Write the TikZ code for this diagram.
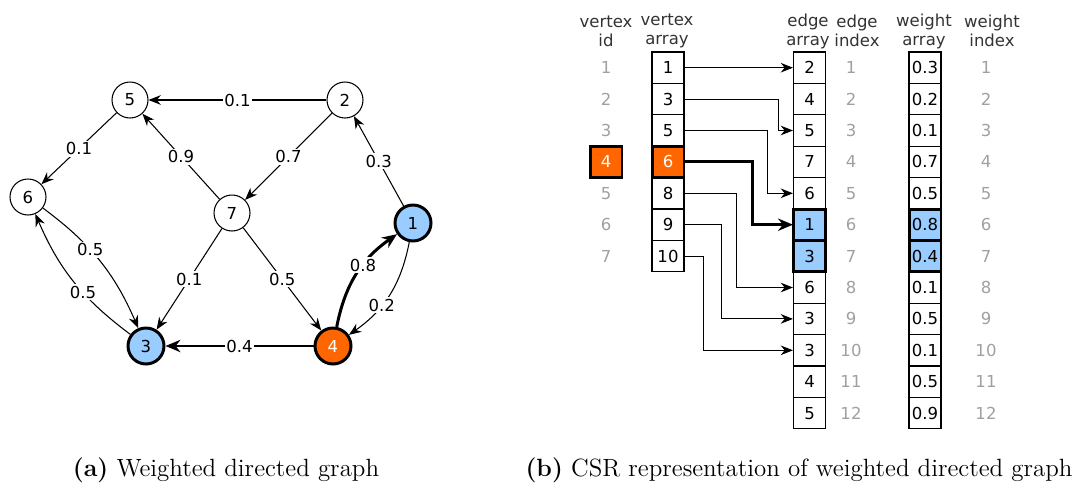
\documentclass[tikz,border=0pt]{standalone}
\usepackage{fontspec}
\newfontfamily\dejavu{DejaVu Sans}
\usetikzlibrary{arrows.meta, positioning}
\definecolor{lightblue}{HTML}{99CCFF}
\definecolor{darkorange}{HTML}{FF6600}
\definecolor{idxgray}{HTML}{A0A0A0}
\definecolor{textgray}{HTML}{333333}
\newcommand{\csrfont}{\dejavu\fontsize{9.4}{10.8}\selectfont}
\tikzstyle{vertex}  = [draw, circle, minimum size=7.2mm, inner sep=0pt, fill=white, line width=0.6pt, font=\csrfont]
\tikzstyle{active}  = [line width=1.7pt]
\tikzstyle{edge}    = [->, >={Stealth[length=7pt, width=5.5pt]}, line width=0.6pt]
\tikzstyle{bold}    = [line width=1.7pt, >={Stealth[length=8.5pt, width=7pt]}]
\tikzstyle{weight}  = [fill=white, inner sep=1pt, font=\csrfont]
\tikzstyle{cell}    = [draw, minimum width=6.4mm, minimum height=6.28mm, inner sep=0pt, line width=0.6pt, fill=white, font=\csrfont]
\tikzstyle{index}   = [text=idxgray, font=\csrfont]
\tikzstyle{header}  = [align=center, text=textgray, font=\csrfont]
\tikzstyle{arrow}   = [->, >={Stealth[length=7pt, width=5.5pt]}, line width=0.6pt]
\tikzstyle{caption} = [font=\fontsize{14.2}{17}\selectfont]

\begin{document}
\begin{tikzpicture}[x=0.02cm, y=0.02cm]
\useasboundingbox (0,0) rectangle (1076,485);

% (a) graph
\node[vertex] (v5) at (130,385) {5};
\node[vertex] (v2) at (345,385) {2};
\node[vertex] (v6) at (28,288) {6};
\node[vertex] (v7) at (232,272) {7};
\node[vertex, active, fill=lightblue] (v1) at (413,262) {1};
\node[vertex, active, fill=lightblue] (v3) at (146,139) {3};
\node[vertex, active, fill=darkorange, text=white] (v4) at (333,139) {4};

\draw[edge] (v2) -- node[weight] {0.1} (v5);
\draw[edge] (v5) -- node[weight] {0.1} (v6);
\draw[edge] (v7) -- node[weight] {0.9} (v5);
\draw[edge] (v2) -- node[weight] {0.7} (v7);
\draw[edge] (v1) -- node[weight] {0.3} (v2);
\draw[edge] (v7) -- node[weight] {0.1} (v3);
\draw[edge] (v7) -- node[weight] {0.5} (v4);
\draw[edge] (v6) to[bend left=15] node[weight, pos=0.4] {0.5} (v3);
\draw[edge] (v3) to[bend left=15] node[weight, pos=0.4] {0.5} (v6);
\draw[edge] (v1) to[bend left=22] node[weight, pos=0.62] {0.2} (v4);
\draw[edge, bold] (v4) to[bend left=22] node[weight, pos=0.6] {0.8} (v1);
\draw[edge, bold] (v4) -- node[weight] {0.4} (v3);

% (b) CSR arrays
\node[header] (hid) at (606,454) {vertex\\id};
\node[header] (hva) at (667,454) {vertex\\array};
\node[header] (hea) at (808,454) {edge\\array};
\node[header] (hei) at (857,454) {edge\\index};
\node[header] (hwa) at (924,454) {weight\\array};
\node[header] (hwi) at (992,454) {weight\\index};

\foreach \i in {1,...,7}
  \node[index] (id\i) at (606, {448.7-31.4*\i}) {\i};
\foreach \v [count=\i] in {1,3,5,6,8,9,10}
  \node[cell] (va\i) at (668, {448.7-31.4*\i}) {\v};
\foreach \v [count=\i] in {2,4,5,7,6,1,3,6,3,3,4,5}
  \node[cell] (ea\i) at (809.5, {448.7-31.4*\i}) {\v};
\foreach \i in {1,...,12}
  \node[index] (ei\i) at (851, {448.7-31.4*\i}) {\i};
\foreach \v [count=\i] in {0.3,0.2,0.1,0.7,0.5,0.8,0.4,0.1,0.5,0.1,0.5,0.9}
  \node[cell] (wa\i) at (925, {448.7-31.4*\i}) {\v};
\foreach \i in {1,...,12}
  \node[index] (wi\i) at (986, {448.7-31.4*\i}) {\i};

% highlighted cells
\node[cell, active, fill=darkorange, text=white] at (id4) {4};
\node[cell, active, fill=darkorange, text=white] at (va4) {6};
\node[cell, active, fill=lightblue] at (ea6) {1};
\node[cell, active, fill=lightblue] at (ea7) {3};
\node[cell, active, fill=lightblue] at (wa6) {0.8};
\node[cell, active, fill=lightblue] at (wa7) {0.4};

\draw[arrow] (va1.east) -- (ea1.west);
\draw[arrow] (va2.east) -- ++(94,0) |- (ea3.west);
\draw[arrow] (va3.east) -- ++(83,0) |- (ea5.west);
\draw[arrow, bold] (va4.east) -- ++(68,0) |- (ea6.west);
\draw[arrow] (va5.east) -- ++(52,0) |- (ea8.west);
\draw[arrow] (va6.east) -- ++(37,0) |- (ea9.west);
\draw[arrow] (va7.east) -- ++(19,0) |- (ea10.west);

% captions
\node[caption] (capa) at (226,15) {\textbf{(a)} Weighted directed graph};
\node[caption] (capb) at (799,15) {\textbf{(b)} CSR representation of weighted directed graph};
\end{tikzpicture}
\end{document}
